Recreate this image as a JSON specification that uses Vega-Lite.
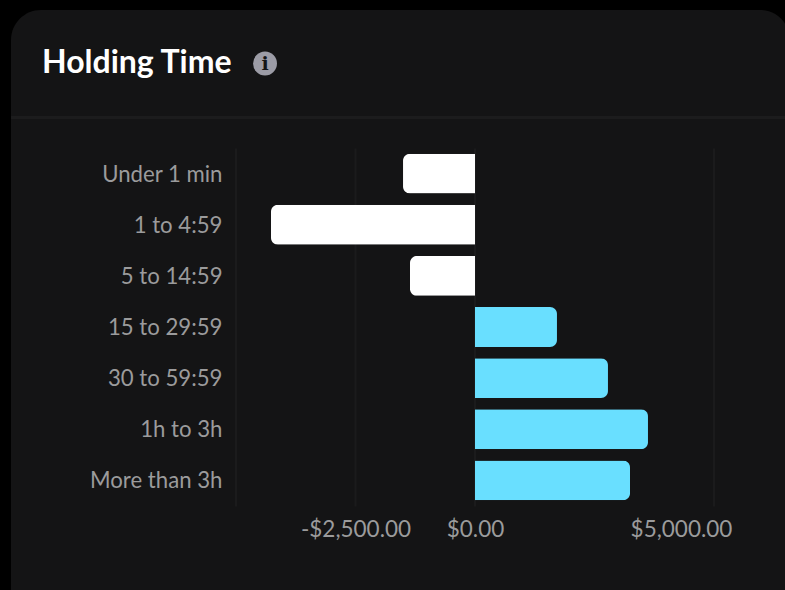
{
  "$schema": "https://vega.github.io/schema/vega-lite/v6.json",
  "autosize": "none",
  "width": 779,
  "height": 610,
  "padding": {"left": 11, "top": 10, "right": 0, "bottom": 0},
  "background": "#000000",
  "title": {
    "text": "Holding Time",
    "anchor": "start",
    "frame": "group",
    "dx": 31,
    "offset": -70,
    "font": "Lato",
    "fontSize": 32,
    "fontWeight": "bold",
    "color": "#ffffff"
  },
  "view": {"fill": "#141415", "stroke": null, "cornerRadius": 30},
  "layer": [
    {
      "data": {"values": [{"divider": "header"}]},
      "mark": {"type": "rule", "yOffset": -56, "color": "#1c1c1d", "strokeWidth": 3, "clip": false},
      "encoding": {
        "x": {"datum": -9707, "type": "quantitative"},
        "x2": {"datum": 6600},
        "y": {"datum": "Under 1 min", "type": "nominal"}
      }
    },
    {
      "data": {"values": [{"tick": -5000}, {"tick": -2500}, {"tick": 0}, {"tick": 5000}]},
      "mark": {"type": "rule", "yOffset": -25, "y2Offset": 26, "color": "#1b1b1c", "strokeWidth": 2, "clip": false},
      "encoding": {
        "x": {"field": "tick", "type": "quantitative"},
        "y": {"datum": "Under 1 min", "type": "nominal"},
        "y2": {"datum": "More than 3h"}
      }
    },
    {
      "data": {
        "values": [
          {"bucket": "Under 1 min", "pnl": -1506},
          {"bucket": "1 to 4:59", "pnl": -4268},
          {"bucket": "5 to 14:59", "pnl": -1360},
          {"bucket": "15 to 29:59", "pnl": 1715},
          {"bucket": "30 to 59:59", "pnl": 2782},
          {"bucket": "1h to 3h", "pnl": 3619},
          {"bucket": "More than 3h", "pnl": 3243}
        ]
      },
      "encoding": {
        "x": {
          "field": "pnl",
          "type": "quantitative",
          "title": null,
          "scale": {"domain": [-5000, 5000], "range": [225, 703], "nice": false, "zero": false},
          "axis": {
            "values": [-2500, 0, 5000],
            "format": "$,.2f",
            "labelExpr": "replace(datum.label, '−', '-')",
            "labelOffset": {"condition": {"test": "datum.value === 5000", "value": -33}, "value": 0},
            "offset": -114,
            "grid": false,
            "domain": false,
            "ticks": false,
            "labelPadding": 12,
            "labelOverlap": false,
            "labelFlush": false,
            "labelFont": "Lato",
            "labelFontSize": 22.5,
            "labelColor": "#9b9b9c"
          }
        },
        "y": {
          "field": "bucket",
          "type": "nominal",
          "title": null,
          "scale": {
            "domain": ["Under 1 min", "1 to 4:59", "5 to 14:59", "15 to 29:59", "30 to 59:59", "1h to 3h", "More than 3h"],
            "range": [138, 496],
            "paddingInner": 0.22,
            "paddingOuter": 0.11
          },
          "axis": {
            "offset": -225,
            "domain": false,
            "ticks": false,
            "grid": false,
            "labelPadding": 14,
            "labelOffset": 1,
            "labelFont": "Lato",
            "labelFontSize": 22.2,
            "labelColor": "#9b9b9c"
          }
        }
      },
      "layer": [
        {
          "transform": [{"filter": "datum.pnl < 0"}],
          "mark": {"type": "bar", "color": "#ffffff", "cornerRadiusTopLeft": 7, "cornerRadiusBottomLeft": 7, "clip": false}
        },
        {
          "transform": [{"filter": "datum.pnl >= 0"}],
          "mark": {"type": "bar", "color": "#69dfff", "cornerRadiusTopRight": 7, "cornerRadiusBottomRight": 7, "clip": false}
        }
      ]
    },
    {
      "data": {"values": [{"label": "i"}]},
      "layer": [
        {
          "mark": {"type": "point", "filled": true, "size": 572, "opacity": 1, "color": "#9c9ca6", "yOffset": -110, "clip": false}
        },
        {
          "mark": {"type": "text", "font": "DejaVu Serif", "fontWeight": "bold", "fontSize": 19, "color": "#141415", "yOffset": -110, "clip": false},
          "encoding": {"text": {"field": "label"}}
        }
      ],
      "encoding": {
        "x": {"datum": -4393, "type": "quantitative"},
        "y": {"datum": "Under 1 min", "type": "nominal"}
      }
    }
  ]
}
